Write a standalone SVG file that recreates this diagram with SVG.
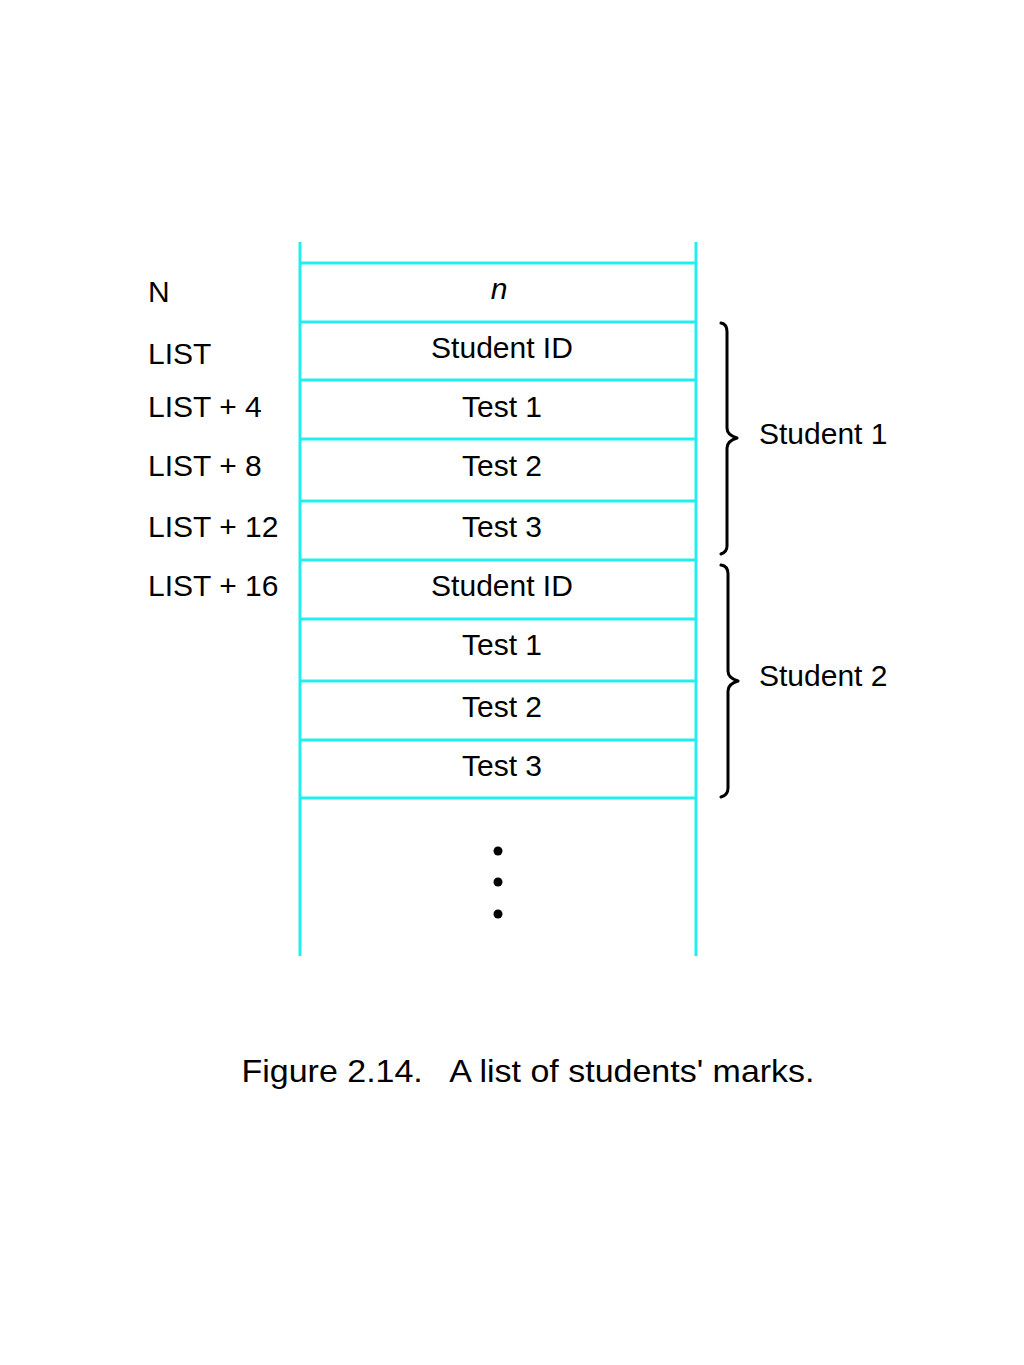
<svg xmlns="http://www.w3.org/2000/svg" width="1024" height="1365" viewBox="0 0 1024 1365">
<style>
.cy{stroke:#22EEEE;stroke-width:3;fill:none}
.br{stroke:#000;stroke-width:3;fill:none;stroke-linecap:round;stroke-linejoin:round}
text{font-family:"Liberation Sans",Arial,sans-serif;font-size:30px;fill:#000}
.c{text-anchor:middle}
</style>
<rect width="1024" height="1365" fill="#fff"/>
<g id="memory">
<line class="cy" x1="300" y1="242" x2="300" y2="956"/>
<line class="cy" x1="696" y1="242" x2="696" y2="956"/>
<line class="cy" x1="300" y1="263" x2="696" y2="263"/>
<line class="cy" x1="300" y1="322" x2="696" y2="322"/>
<line class="cy" x1="300" y1="380" x2="696" y2="380"/>
<line class="cy" x1="300" y1="439" x2="696" y2="439"/>
<line class="cy" x1="300" y1="501" x2="696" y2="501"/>
<line class="cy" x1="300" y1="560" x2="696" y2="560"/>
<line class="cy" x1="300" y1="619" x2="696" y2="619"/>
<line class="cy" x1="300" y1="681" x2="696" y2="681"/>
<line class="cy" x1="300" y1="740" x2="696" y2="740"/>
<line class="cy" x1="300" y1="798" x2="696" y2="798"/>
</g>
<g id="cells">
<text class="c" x="499" y="299" font-style="italic">n</text>
<text class="c" x="502" y="358">Student ID</text>
<text class="c" x="502" y="417">Test 1</text>
<text class="c" x="502" y="476">Test 2</text>
<text class="c" x="502" y="537">Test 3</text>
<text class="c" x="502" y="596">Student ID</text>
<text class="c" x="502" y="655">Test 1</text>
<text class="c" x="502" y="717">Test 2</text>
<text class="c" x="502" y="776">Test 3</text>
</g>
<g id="addresses">
<text x="148" y="302">N</text>
<text x="148" y="364">LIST</text>
<text x="148" y="417">LIST + 4</text>
<text x="148" y="476">LIST + 8</text>
<text x="148" y="537">LIST + 12</text>
<text x="148" y="596">LIST + 16</text>
</g>
<g id="dots">
<circle cx="498" cy="851" r="4.5"/>
<circle cx="498" cy="882" r="4.5"/>
<circle cx="498" cy="914" r="4.5"/>
</g>
<g id="braces">
<path class="br" d="M721,323 Q727,324 727,332 L727,428 Q727,435 737,438 Q727,441 727,448 L727,546 Q727,552 721,554"/>
<path class="br" d="M721,565 Q728,566 728,574 L728,671 Q728,678 738,681 Q728,684 728,691 L728,788 Q728,795 721,797"/>
<text x="759" y="444">Student 1</text>
<text x="759" y="686">Student 2</text>
</g>
<text x="528" y="1082" class="c" style="font-size:32px;white-space:pre" xml:space="preserve" textLength="573" lengthAdjust="spacingAndGlyphs">Figure 2.14.   A list of students' marks.</text>
</svg>
